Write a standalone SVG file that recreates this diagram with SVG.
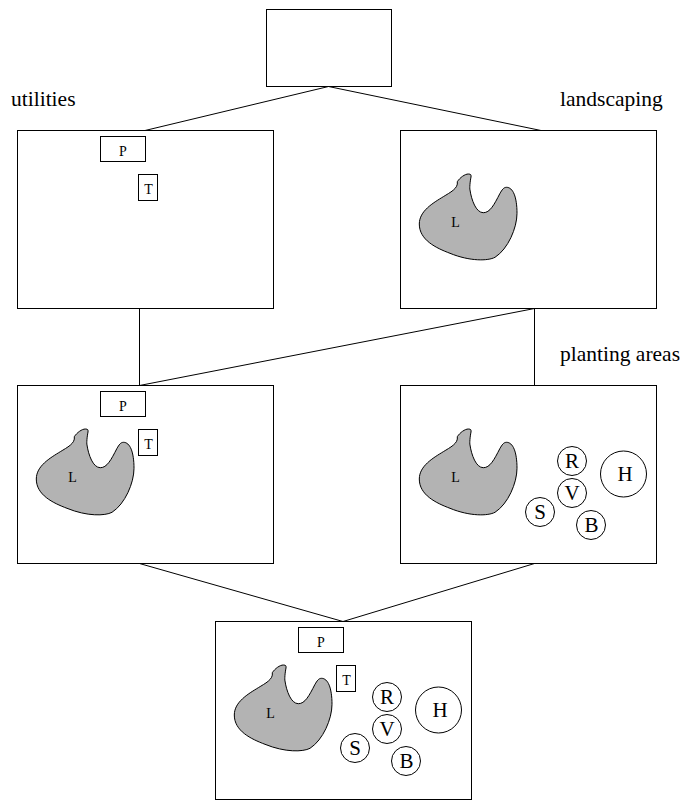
<svg xmlns="http://www.w3.org/2000/svg" width="683" height="800" viewBox="0 0 683 800">
<style>
.f{fill:#fff;stroke:#000;stroke-width:1}
.b{fill:#b3b3b3;stroke:#000;stroke-width:1}
.c{stroke:#000;stroke-width:1;fill:none}
text{font-family:"Liberation Serif","Times New Roman",serif;fill:#000}
.s{font-size:14px;text-anchor:middle}
.m{font-size:21px;text-anchor:middle}
.l{font-size:21.5px}
</style>
<defs>
<path id="blob" class="b" d="M457.300 181.700C460 177.500 465 174 468.300 174C471 174 471.300 175 471 177C470 182 469.500 188 470 190C471.500 200 476 212.700 483.300 212.700C490 212.700 494 205 500 193.300C502 190 503.500 187.300 506.500 187.300C513 187.300 517 197 517 213.300C517 228 508 249 495 257.300C488 261 470 261.500 450 253.300C436 248 419.300 240 419.300 224C419.300 211 433 203 443.300 196.700C450 192.500 458.500 188.500 457.300 181.700Z"/>
<g id="pv"><rect class="f" x="100.500" y="136.500" width="45" height="25"/><text class="s" x="123" y="155.500">P</text></g>
<g id="tv"><rect class="f" x="138.500" y="174.500" width="19" height="26"/><text class="s" x="148.500" y="193.500">T</text></g>
<g id="pa">
<circle class="f" cx="572" cy="461" r="14.500"/><text class="m" x="572" y="468">R</text>
<circle class="f" cx="572" cy="493" r="14.500"/><text class="m" x="572" y="499.500">V</text>
<circle class="f" cx="540" cy="512" r="14.500"/><text class="m" x="540" y="519">S</text>
<circle class="f" cx="591" cy="525" r="14.500"/><text class="m" x="591.500" y="532">B</text>
<circle class="f" cx="623.500" cy="474" r="23"/><text class="m" x="625" y="481">H</text>
</g>
<g id="blobl"><use href="#blob"/><text class="s" x="455.500" y="226.500">L</text></g>
</defs>
<g id="connectors">
<path class="c" d="M328.500 86.500L145 130.500M328.500 86.500L541 130.500M139.500 308.500V385.500L534.500 308.500V385.500M139.500 563.500L343 621.500L534.500 563.500"/>
</g>
<g id="root"><rect class="f" x="266.500" y="9.500" width="125" height="77"/></g>
<g id="utilities"><rect class="f" x="17.500" y="130.500" width="256" height="178"/><use href="#pv"/><use href="#tv"/></g>
<g id="landscaping"><rect class="f" x="400.500" y="130.500" width="256" height="178"/><use href="#blobl"/></g>
<g id="combined"><rect class="f" x="17.500" y="385.500" width="256" height="178"/><use href="#pv" y="255"/><use href="#tv" y="255"/><use href="#blobl" x="-383" y="255"/></g>
<g id="planting"><rect class="f" x="400.500" y="385.500" width="256" height="178"/><use href="#blobl" y="255"/><use href="#pa"/></g>
<g id="final"><rect class="f" x="215.500" y="621.500" width="256" height="178"/><use href="#pv" x="198" y="491"/><use href="#tv" x="198" y="491"/><use href="#blobl" x="-185" y="491"/><use href="#pa" x="-185" y="236"/></g>
<g id="labels">
<text class="l" x="11" y="105.500">utilities</text>
<text class="l" x="560" y="105.500">landscaping</text>
<text class="l" x="560" y="360.500">planting areas</text>
</g>
</svg>
